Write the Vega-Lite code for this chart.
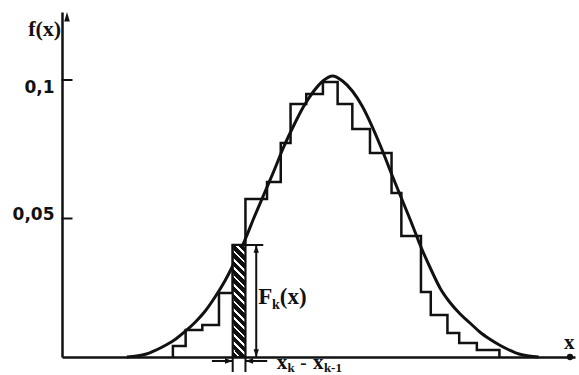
{
  "$schema": "https://vega.github.io/schema/vega-lite/v6.json",
  "width": 513,
  "height": 345,
  "autosize": {"type": "none"},
  "padding": {"left": 62, "top": 12, "right": 4, "bottom": 18},
  "background": "white",
  "config": {"view": {"stroke": null}, "font": "Liberation Serif"},
  "datasets": {
    "curve": [
      {"x": 61, "f": 0}, {"x": 71, "f": 0.00036}, {"x": 81, "f": 0.00108}, {"x": 91, "f": 0.00253},
      {"x": 101, "f": 0.00433}, {"x": 111, "f": 0.0065}, {"x": 121, "f": 0.00939}, {"x": 131, "f": 0.01264},
      {"x": 141, "f": 0.01661}, {"x": 151, "f": 0.02166}, {"x": 161, "f": 0.02744}, {"x": 171, "f": 0.0343},
      {"x": 181, "f": 0.04188}, {"x": 191, "f": 0.05054}, {"x": 201, "f": 0.05884}, {"x": 211, "f": 0.06715},
      {"x": 221, "f": 0.07581}, {"x": 231, "f": 0.08339}, {"x": 241, "f": 0.09025}, {"x": 251, "f": 0.09567},
      {"x": 261, "f": 0.09964}, {"x": 271, "f": 0.10144}, {"x": 281, "f": 0.09964}, {"x": 291, "f": 0.09603},
      {"x": 301, "f": 0.09061}, {"x": 311, "f": 0.08339}, {"x": 321, "f": 0.07509}, {"x": 331, "f": 0.06606},
      {"x": 341, "f": 0.0574}, {"x": 351, "f": 0.04874}, {"x": 361, "f": 0.03971}, {"x": 371, "f": 0.03177},
      {"x": 381, "f": 0.02455}, {"x": 391, "f": 0.01949}, {"x": 401, "f": 0.01552}, {"x": 411, "f": 0.01227},
      {"x": 421, "f": 0.00903}, {"x": 431, "f": 0.0065}, {"x": 441, "f": 0.00433}, {"x": 451, "f": 0.00253},
      {"x": 461, "f": 0.00108}, {"x": 471, "f": 0.00036}, {"x": 481, "f": 0}
    ],
    "steps": [
      {"x": 108, "f": 0}, {"x": 108, "f": 0.00397}, {"x": 121, "f": 0.00975}, {"x": 138, "f": 0.01155},
      {"x": 155, "f": 0.0231}, {"x": 169, "f": 0.04043, "bin": "k"}, {"x": 182, "f": 0.05704},
      {"x": 204, "f": 0.06318}, {"x": 218, "f": 0.07726}, {"x": 228, "f": 0.09134}, {"x": 244, "f": 0.09495},
      {"x": 261, "f": 0.09928}, {"x": 276, "f": 0.09134}, {"x": 291, "f": 0.08231}, {"x": 309, "f": 0.07365},
      {"x": 331, "f": 0.05921}, {"x": 341, "f": 0.04368}, {"x": 361, "f": 0.02347}, {"x": 371, "f": 0.01516},
      {"x": 388, "f": 0.00866}, {"x": 400, "f": 0.00505}, {"x": 418, "f": 0.00253}, {"x": 441, "f": 0}
    ],
    "yticks": [{"f": 0.05}, {"f": 0.1}]
  },
  "layer": [
    {
      "data": {"name": "steps"},
      "mark": {"type": "line", "interpolate": "step-after", "stroke": "#111", "strokeWidth": 2.5},
      "encoding": {
        "x": {
          "field": "x", "type": "quantitative",
          "scale": {"domain": [0, 513], "nice": false, "zero": false},
          "axis": {"title": null, "ticks": false, "labels": false, "grid": false, "domainColor": "#111", "domainWidth": 2.5}
        },
        "y": {
          "field": "f", "type": "quantitative",
          "scale": {"domain": [0, 0.12455], "nice": false},
          "axis": {
            "title": null, "values": [0.05, 0.1], "ticks": false, "grid": false,
            "domainColor": "#111", "domainWidth": 2.5,
            "labelExpr": "replace(format(datum.value, '~g'), '.', ',')",
            "labelFont": "DejaVu Sans", "labelFontWeight": "bold", "labelFontSize": 17,
            "labelColor": "#111", "labelPadding": 8,
            "labelOffset": {"condition": {"test": "datum.value > 0.07", "value": 7}, "value": -4}
          }
        }
      }
    },
    {
      "data": {"name": "curve"},
      "mark": {"type": "line", "interpolate": "monotone", "stroke": "#111", "strokeWidth": 3},
      "encoding": {
        "x": {"field": "x", "type": "quantitative"},
        "y": {"field": "f", "type": "quantitative"}
      }
    },
    {
      "data": {"name": "yticks"},
      "mark": {"type": "tick", "orient": "horizontal", "color": "#111", "opacity": 1, "size": 11, "thickness": 2},
      "encoding": {
        "x": {"datum": 0, "type": "quantitative"},
        "y": {"field": "f", "type": "quantitative"}
      }
    },
    {
      "data": {"values": [{}]},
      "layer": [
        {
          "mark": {"type": "point", "shape": "M0,0L0.35,1.2L-0.35,1.2Z", "size": 256, "filled": true, "fill": "#111", "opacity": 1, "strokeWidth": 0},
          "encoding": {"x": {"datum": 0, "type": "quantitative"}, "y": {"datum": 0.12455, "type": "quantitative"}}
        },
        {
          "mark": {"type": "point", "shape": "circle", "size": 40, "filled": true, "fill": "#111", "opacity": 1},
          "encoding": {"x": {"datum": 513, "type": "quantitative"}, "y": {"datum": 0, "type": "quantitative"}}
        },
        {
          "mark": {"type": "text", "text": "f(x)", "font": "Liberation Serif", "fontWeight": "bold", "fontSize": 22, "align": "right", "baseline": "middle", "fill": "#111"},
          "encoding": {"x": {"datum": -6, "type": "quantitative"}, "y": {"datum": 0.1184, "type": "quantitative"}}
        },
        {
          "mark": {"type": "text", "text": "x", "font": "Liberation Serif", "fontWeight": "bold", "fontSize": 21, "align": "left", "baseline": "middle", "fill": "#111"},
          "encoding": {"x": {"datum": 507, "type": "quantitative"}, "y": {"datum": 0.005, "type": "quantitative"}}
        }
      ]
    },
    {
      "data": {"name": "steps"},
      "transform": [
        {"window": [{"op": "lead", "field": "x", "as": "xnext"}], "sort": [{"field": "x", "order": "ascending"}]},
        {"filter": "datum.bin === 'k'"}
      ],
      "layer": [
        {
          "mark": {
            "type": "rect", "stroke": "#111", "strokeWidth": 2.2,
            "fill": {
              "gradient": "linear", "x1": 0, "y1": 1, "x2": 0.128, "y2": -0.101,
              "stops": [
                {"offset": 0, "color": "#111"},
                {"offset": 0.045, "color": "#111"}, {"offset": 0.045, "color": "#fff"}, {"offset": 0.0667, "color": "#fff"}, {"offset": 0.0667, "color": "#111"},
                {"offset": 0.1117, "color": "#111"}, {"offset": 0.1117, "color": "#fff"}, {"offset": 0.1333, "color": "#fff"}, {"offset": 0.1333, "color": "#111"},
                {"offset": 0.1783, "color": "#111"}, {"offset": 0.1783, "color": "#fff"}, {"offset": 0.2, "color": "#fff"}, {"offset": 0.2, "color": "#111"},
                {"offset": 0.245, "color": "#111"}, {"offset": 0.245, "color": "#fff"}, {"offset": 0.2667, "color": "#fff"}, {"offset": 0.2667, "color": "#111"},
                {"offset": 0.3117, "color": "#111"}, {"offset": 0.3117, "color": "#fff"}, {"offset": 0.3333, "color": "#fff"}, {"offset": 0.3333, "color": "#111"},
                {"offset": 0.3783, "color": "#111"}, {"offset": 0.3783, "color": "#fff"}, {"offset": 0.4, "color": "#fff"}, {"offset": 0.4, "color": "#111"},
                {"offset": 0.445, "color": "#111"}, {"offset": 0.445, "color": "#fff"}, {"offset": 0.4667, "color": "#fff"}, {"offset": 0.4667, "color": "#111"},
                {"offset": 0.5117, "color": "#111"}, {"offset": 0.5117, "color": "#fff"}, {"offset": 0.5333, "color": "#fff"}, {"offset": 0.5333, "color": "#111"},
                {"offset": 0.5783, "color": "#111"}, {"offset": 0.5783, "color": "#fff"}, {"offset": 0.6, "color": "#fff"}, {"offset": 0.6, "color": "#111"},
                {"offset": 0.645, "color": "#111"}, {"offset": 0.645, "color": "#fff"}, {"offset": 0.6667, "color": "#fff"}, {"offset": 0.6667, "color": "#111"},
                {"offset": 0.7117, "color": "#111"}, {"offset": 0.7117, "color": "#fff"}, {"offset": 0.7333, "color": "#fff"}, {"offset": 0.7333, "color": "#111"},
                {"offset": 0.7783, "color": "#111"}, {"offset": 0.7783, "color": "#fff"}, {"offset": 0.8, "color": "#fff"}, {"offset": 0.8, "color": "#111"},
                {"offset": 0.845, "color": "#111"}, {"offset": 0.845, "color": "#fff"}, {"offset": 0.8667, "color": "#fff"}, {"offset": 0.8667, "color": "#111"},
                {"offset": 0.9117, "color": "#111"}, {"offset": 0.9117, "color": "#fff"}, {"offset": 0.9333, "color": "#fff"}, {"offset": 0.9333, "color": "#111"},
                {"offset": 0.9783, "color": "#111"}, {"offset": 0.9783, "color": "#fff"}, {"offset": 1, "color": "#fff"}
              ]
            }
          },
          "encoding": {
            "x": {"field": "x", "type": "quantitative"},
            "x2": {"field": "xnext"},
            "y": {"field": "f", "type": "quantitative"}
          }
        },
        {
          "mark": {"type": "tick", "orient": "vertical", "color": "#111", "opacity": 1, "size": 15, "thickness": 2},
          "encoding": {"x": {"field": "x", "type": "quantitative"}, "y": {"datum": -0.0027, "type": "quantitative"}}
        },
        {
          "mark": {"type": "tick", "orient": "vertical", "color": "#111", "opacity": 1, "size": 15, "thickness": 2},
          "encoding": {"x": {"field": "xnext", "type": "quantitative"}, "y": {"datum": -0.0027, "type": "quantitative"}}
        },
        {
          "mark": {"type": "tick", "orient": "horizontal", "color": "#111", "opacity": 1, "size": 18, "thickness": 2},
          "encoding": {"x": {"datum": 191, "type": "quantitative"}, "y": {"field": "f", "type": "quantitative"}}
        },
        {
          "mark": {"type": "bar", "orient": "vertical", "color": "#111", "size": 2},
          "encoding": {"x": {"datum": 193, "type": "quantitative"}, "y": {"field": "f", "type": "quantitative"}}
        },
        {
          "mark": {"type": "point", "shape": "M0,0L0.38,1.1L-0.38,1.1Z", "size": 196, "filled": true, "fill": "#111", "opacity": 1, "strokeWidth": 0},
          "encoding": {"x": {"datum": 193, "type": "quantitative"}, "y": {"field": "f", "type": "quantitative"}}
        },
        {
          "mark": {"type": "point", "shape": "M0,0L0.38,-1.1L-0.38,-1.1Z", "size": 196, "filled": true, "fill": "#111", "opacity": 1, "strokeWidth": 0},
          "encoding": {"x": {"datum": 193, "type": "quantitative"}, "y": {"datum": 0, "type": "quantitative"}}
        },
        {
          "mark": {"type": "tick", "orient": "horizontal", "color": "#111", "opacity": 1, "size": 21, "thickness": 2},
          "encoding": {"x": {"datum": 158.5, "type": "quantitative"}, "y": {"datum": -0.00144, "type": "quantitative"}}
        },
        {
          "mark": {"type": "tick", "orient": "horizontal", "color": "#111", "opacity": 1, "size": 22, "thickness": 2},
          "encoding": {"x": {"datum": 193, "type": "quantitative"}, "y": {"datum": -0.00144, "type": "quantitative"}}
        },
        {
          "mark": {"type": "point", "shape": "M0,0L-1.1,-0.38L-1.1,0.38Z", "size": 196, "filled": true, "fill": "#111", "opacity": 1, "strokeWidth": 0},
          "encoding": {"x": {"field": "x", "type": "quantitative"}, "y": {"datum": -0.00144, "type": "quantitative"}}
        },
        {
          "mark": {"type": "point", "shape": "M0,0L1.1,-0.38L1.1,0.38Z", "size": 196, "filled": true, "fill": "#111", "opacity": 1, "strokeWidth": 0},
          "encoding": {"x": {"field": "xnext", "type": "quantitative"}, "y": {"datum": -0.00144, "type": "quantitative"}}
        },
        {
          "mark": {"type": "text", "text": "F", "font": "Liberation Serif", "fontSize": 23, "fontWeight": "bold", "align": "left", "baseline": "middle", "fill": "#111"},
          "encoding": {"x": {"datum": 195, "type": "quantitative"}, "y": {"datum": 0.0215, "type": "quantitative"}}
        },
        {
          "mark": {"type": "text", "text": "k", "font": "Liberation Serif", "fontSize": 14, "fontWeight": "bold", "align": "left", "baseline": "middle", "fill": "#111"},
          "encoding": {"x": {"datum": 209, "type": "quantitative"}, "y": {"datum": 0.0188, "type": "quantitative"}}
        },
        {
          "mark": {"type": "text", "text": "(x)", "font": "Liberation Serif", "fontSize": 23, "fontWeight": "bold", "align": "left", "baseline": "middle", "fill": "#111"},
          "encoding": {"x": {"datum": 217, "type": "quantitative"}, "y": {"datum": 0.0215, "type": "quantitative"}}
        },
        {
          "mark": {"type": "text", "text": "x", "font": "Liberation Serif", "fontSize": 21, "fontWeight": "bold", "align": "left", "baseline": "middle", "fill": "#111"},
          "encoding": {"x": {"datum": 214, "type": "quantitative"}, "y": {"datum": -0.0021, "type": "quantitative"}}
        },
        {
          "mark": {"type": "text", "text": "k", "font": "Liberation Serif", "fontSize": 13, "fontWeight": "bold", "align": "left", "baseline": "middle", "fill": "#111"},
          "encoding": {"x": {"datum": 225, "type": "quantitative"}, "y": {"datum": -0.0039, "type": "quantitative"}}
        },
        {
          "mark": {"type": "text", "text": "-", "font": "Liberation Serif", "fontSize": 19, "fontWeight": "bold", "align": "center", "baseline": "middle", "fill": "#111"},
          "encoding": {"x": {"datum": 241, "type": "quantitative"}, "y": {"datum": -0.0021, "type": "quantitative"}}
        },
        {
          "mark": {"type": "text", "text": "x", "font": "Liberation Serif", "fontSize": 21, "fontWeight": "bold", "align": "left", "baseline": "middle", "fill": "#111"},
          "encoding": {"x": {"datum": 251, "type": "quantitative"}, "y": {"datum": -0.0021, "type": "quantitative"}}
        },
        {
          "mark": {"type": "text", "text": "k-1", "font": "Liberation Serif", "fontSize": 13, "fontWeight": "bold", "align": "left", "baseline": "middle", "fill": "#111"},
          "encoding": {"x": {"datum": 262, "type": "quantitative"}, "y": {"datum": -0.0039, "type": "quantitative"}}
        }
      ]
    }
  ]
}
